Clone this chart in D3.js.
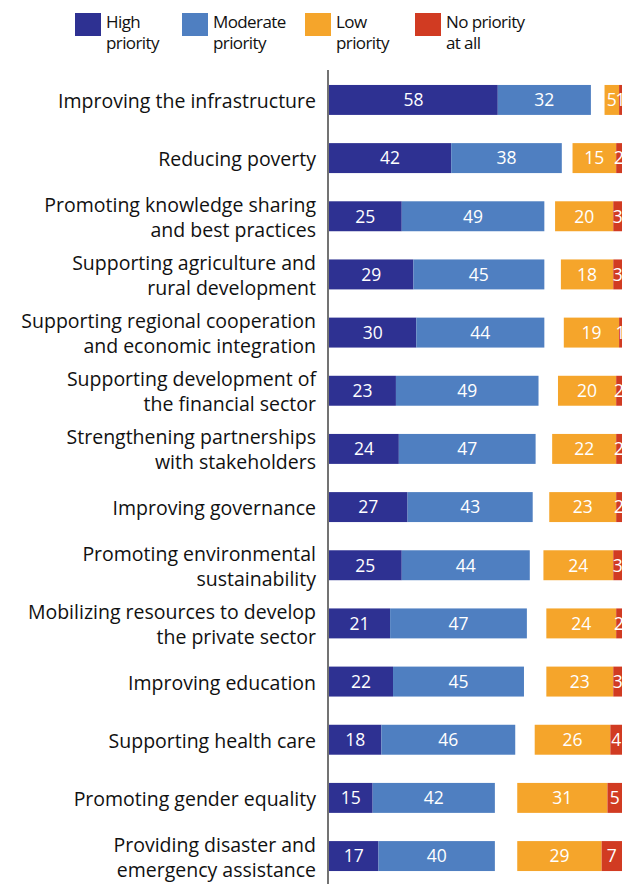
<!DOCTYPE html>
<html>
<head>
<meta charset="utf-8">
<script src="https://cdn.jsdelivr.net/npm/d3@7"></script>
<style>
  body { margin: 0; background: #fff; }
  svg { display: block; font-family: "Open Sans", sans-serif; }
</style>
</head>
<body>
<script>
// Data
let categories = [
    ["Improving the infrastructure"],
    ["Reducing poverty"],
    ["Promoting knowledge sharing", "and best practices"],
    ["Supporting agriculture and", "rural development"],
    ["Supporting regional cooperation", "and economic integration"],
    ["Supporting development of", "the financial sector"],
    ["Strengthening partnerships", "with stakeholders"],
    ["Improving governance"],
    ["Promoting environmental", "sustainability"],
    ["Mobilizing resources to develop", "the private sector"],
    ["Improving education"],
    ["Supporting health care"],
    ["Promoting gender equality"],
    ["Providing disaster and", "emergency assistance"]
];
let high = [58, 42, 25, 29, 30, 23, 24, 27, 25, 21, 22, 18, 15, 17];
let moderate = [32, 38, 49, 45, 44, 49, 47, 43, 44, 47, 45, 46, 42, 40];
let low = [5, 15, 20, 18, 19, 20, 22, 23, 24, 24, 23, 26, 31, 29];
let none = [1, 2, 3, 3, 1, 2, 2, 2, 3, 2, 3, 4, 5, 7];

let legendLabels = [["High", "priority"], ["Moderate", "priority"], ["Low", "priority"], ["No priority", "at all"]];
let colors = ["#2e3192", "#4f7fc1", "#f5a52b", "#d13b22"];

let width = 627, height = 884;
let axisX = 329, rightEdge = 622;

let svg = d3.select("body")
    .append("svg")
    .attr("width", width)
    .attr("height", height);

// Scales
let x = d3.scaleLinear([0, 100], [0, 291]);
let y = d3.scaleBand(d3.range(categories.length), [71, 885]).paddingInner(0.485).paddingOuter(0.24);

let rows = categories.map((c, i) => ({ i, label: c, h: high[i], m: moderate[i], l: low[i], n: none[i] }));

// Segments: high + moderate from the axis, low + none flush to the right edge
let segments = rows.flatMap(r => [
    { i: r.i, v: r.h, x0: axisX, x1: axisX + x(r.h), c: 0 },
    { i: r.i, v: r.m, x0: axisX + x(r.h), x1: axisX + x(r.h + r.m), c: 1 },
    { i: r.i, v: r.l, x0: rightEdge - x(r.l + r.n), x1: rightEdge - x(r.n), c: 2 },
    { i: r.i, v: r.n, x0: rightEdge - x(r.n), x1: rightEdge, c: 3 }
]);

svg.append("g")
    .selectAll("rect")
    .data(segments)
    .enter()
    .append("rect")
    .attr("x", d => d.x0)
    .attr("y", d => y(d.i))
    .attr("width", d => d.x1 - d.x0)
    .attr("height", y.bandwidth())
    .attr("fill", d => colors[d.c]);

svg.append("g")
    .selectAll("text")
    .data(segments)
    .enter()
    .append("text")
    .attr("x", d => (d.x0 + d.x1) / 2)
    .attr("y", d => y(d.i) + y.bandwidth() / 2)
    .attr("dy", "0.36em")
    .attr("text-anchor", "middle")
    .attr("fill", "#fff")
    .style("font-size", "17.5px")
    .text(d => d.v);

// Axis line
svg.append("line")
    .attr("x1", axisX - 1).attr("x2", axisX - 1)
    .attr("y1", 70).attr("y2", height)
    .attr("stroke", "#444")
    .attr("stroke-width", 1.5);

// Category labels
let labels = svg.append("g")
    .selectAll("text")
    .data(rows)
    .enter()
    .append("text")
    .attr("text-anchor", "end")
    .attr("fill", "#111")
    .style("font-size", "19.5px");

labels.selectAll("tspan")
    .data(r => r.label.map((t, k) => ({ t, k, n: r.label.length, i: r.i })))
    .enter()
    .append("tspan")
    .attr("x", 316)
    .attr("y", d => y(d.i) + y.bandwidth() / 2 + 1 + (d.k - (d.n - 1) / 2) * 25)
    .attr("dy", "0.36em")
    .text(d => d.t);

// Legend
let legendX = [75, 182, 305, 415];
let legend = svg.append("g")
    .selectAll("g")
    .data(legendLabels)
    .enter()
    .append("g")
    .attr("transform", (d, i) => `translate(${legendX[i]}, 13)`);

legend.append("rect")
    .attr("width", 26)
    .attr("height", 23)
    .attr("fill", (d, i) => colors[i]);

legend.append("text")
    .style("font-size", "17px")
    .style("letter-spacing", "-0.6px")
    .attr("fill", "#111")
    .selectAll("tspan")
    .data(d => d)
    .enter()
    .append("tspan")
    .attr("x", 31)
    .attr("y", (d, k) => 15 + k * 21)
    .text(d => d);
</script>
</body>
</html>
